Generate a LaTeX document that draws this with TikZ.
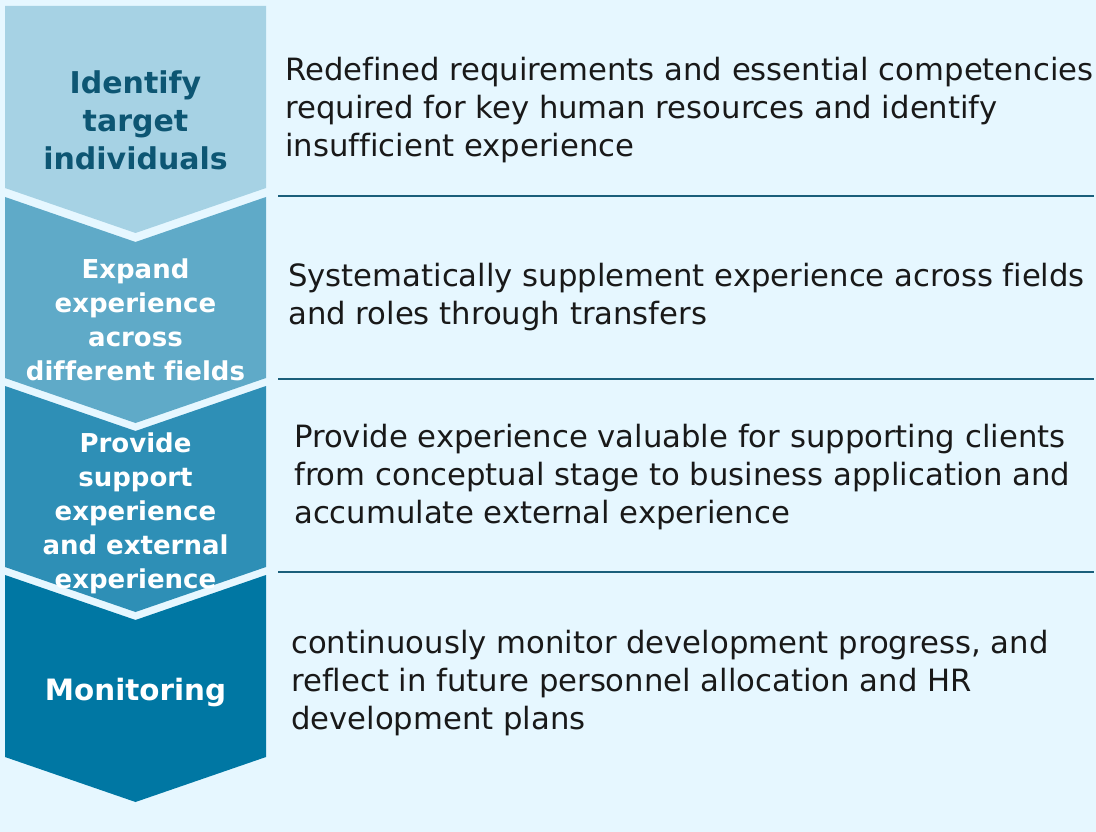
\documentclass[tikz,border=0pt]{standalone}
\usepackage{fontspec}
\setmainfont[Ligatures=NoCommon]{DejaVu Sans}
\usepackage{tikz}
\usetikzlibrary{positioning}
\definecolor{bgblue}{HTML}{E6F7FF}
\definecolor{chevA}{HTML}{A6D2E4}
\definecolor{chevB}{HTML}{5FAAC8}
\definecolor{chevC}{HTML}{2E8FB6}
\definecolor{chevD}{HTML}{0077A3}
\definecolor{darkteal}{HTML}{0D5673}
\definecolor{ruleteal}{HTML}{1B5F7B}
\tikzset{Desc/.style={anchor=base west, align=left, inner sep=0pt,
    font=\fontsize{30.7}{38}\selectfont, text=black!90}}
\tikzset{Stage/.style={anchor=base, align=center, inner sep=0pt,
    font=\bfseries\fontsize{26}{34}\selectfont, text=white}}
\tikzset{Sep/.style={draw=ruleteal, line width=1.5pt}}
% chevron: top y, bottom y (sides), notch depth 45
\newcommand{\Chevron}[3]{
    \fill[#3] (5,#1) -- (135.5,#1+45) -- (266,#1) -- (266,#2)
        -- (135.5,#2+45) -- (5,#2) -- cycle;
}

\begin{document}
\begin{tikzpicture}[x=1pt, y=-1pt]
    \useasboundingbox (0,0) rectangle (1096,832);
    \fill[bgblue] (0,0) rectangle (1096,832);

    %% the arrow column
    \fill[chevA] (5,6) -- (266,6) -- (266,188) -- (135.5,233) -- (5,188) -- cycle;
    \Chevron{197}{378}{chevB}
    \Chevron{386}{567}{chevC}
    \Chevron{575}{757}{chevD}

    % nodes sit on the baseline of their last line
    \node[Stage, text=darkteal, font=\bfseries\fontsize{30}{38}\selectfont]
        (s1) at (135.5,170) {Identify\\target\\individuals};
    \node[Stage] (s2) at (135.5,380) {Expand\\experience\\across\\different fields};
    \node[Stage] (s3) at (135.5,588) {Provide\\support\\experience\\and external\\experience};
    \node[Stage, font=\bfseries\fontsize{29.4}{38}\selectfont] (s4) at (135.5,700) {Monitoring};

    %% descriptions
    \node[Desc] (d1) at (285,157) {Redefined requirements and essential competencies\\
        required for key human resources and identify\\insufficient experience};
    \node[Desc] (d2) at (288,324) {Systematically supplement experience across fields\\
        and roles through transfers};
    \node[Desc] (d3) at (294,523) {Provide experience valuable for supporting clients\\
        from conceptual stage to business application and\\accumulate external experience};
    \node[Desc] (d4) at (291,729) {continuously monitor development progress, and\\
        reflect in future personnel allocation and HR\\development plans};

    %% rules between rows
    \foreach \y/\n in {196/a, 379/b, 572/c} {
        \coordinate (l\n) at (278,\y);
        \coordinate (r\n) at (1094,\y);
        \draw[Sep] (l\n) -- (r\n);
    }
\end{tikzpicture}
\end{document}
